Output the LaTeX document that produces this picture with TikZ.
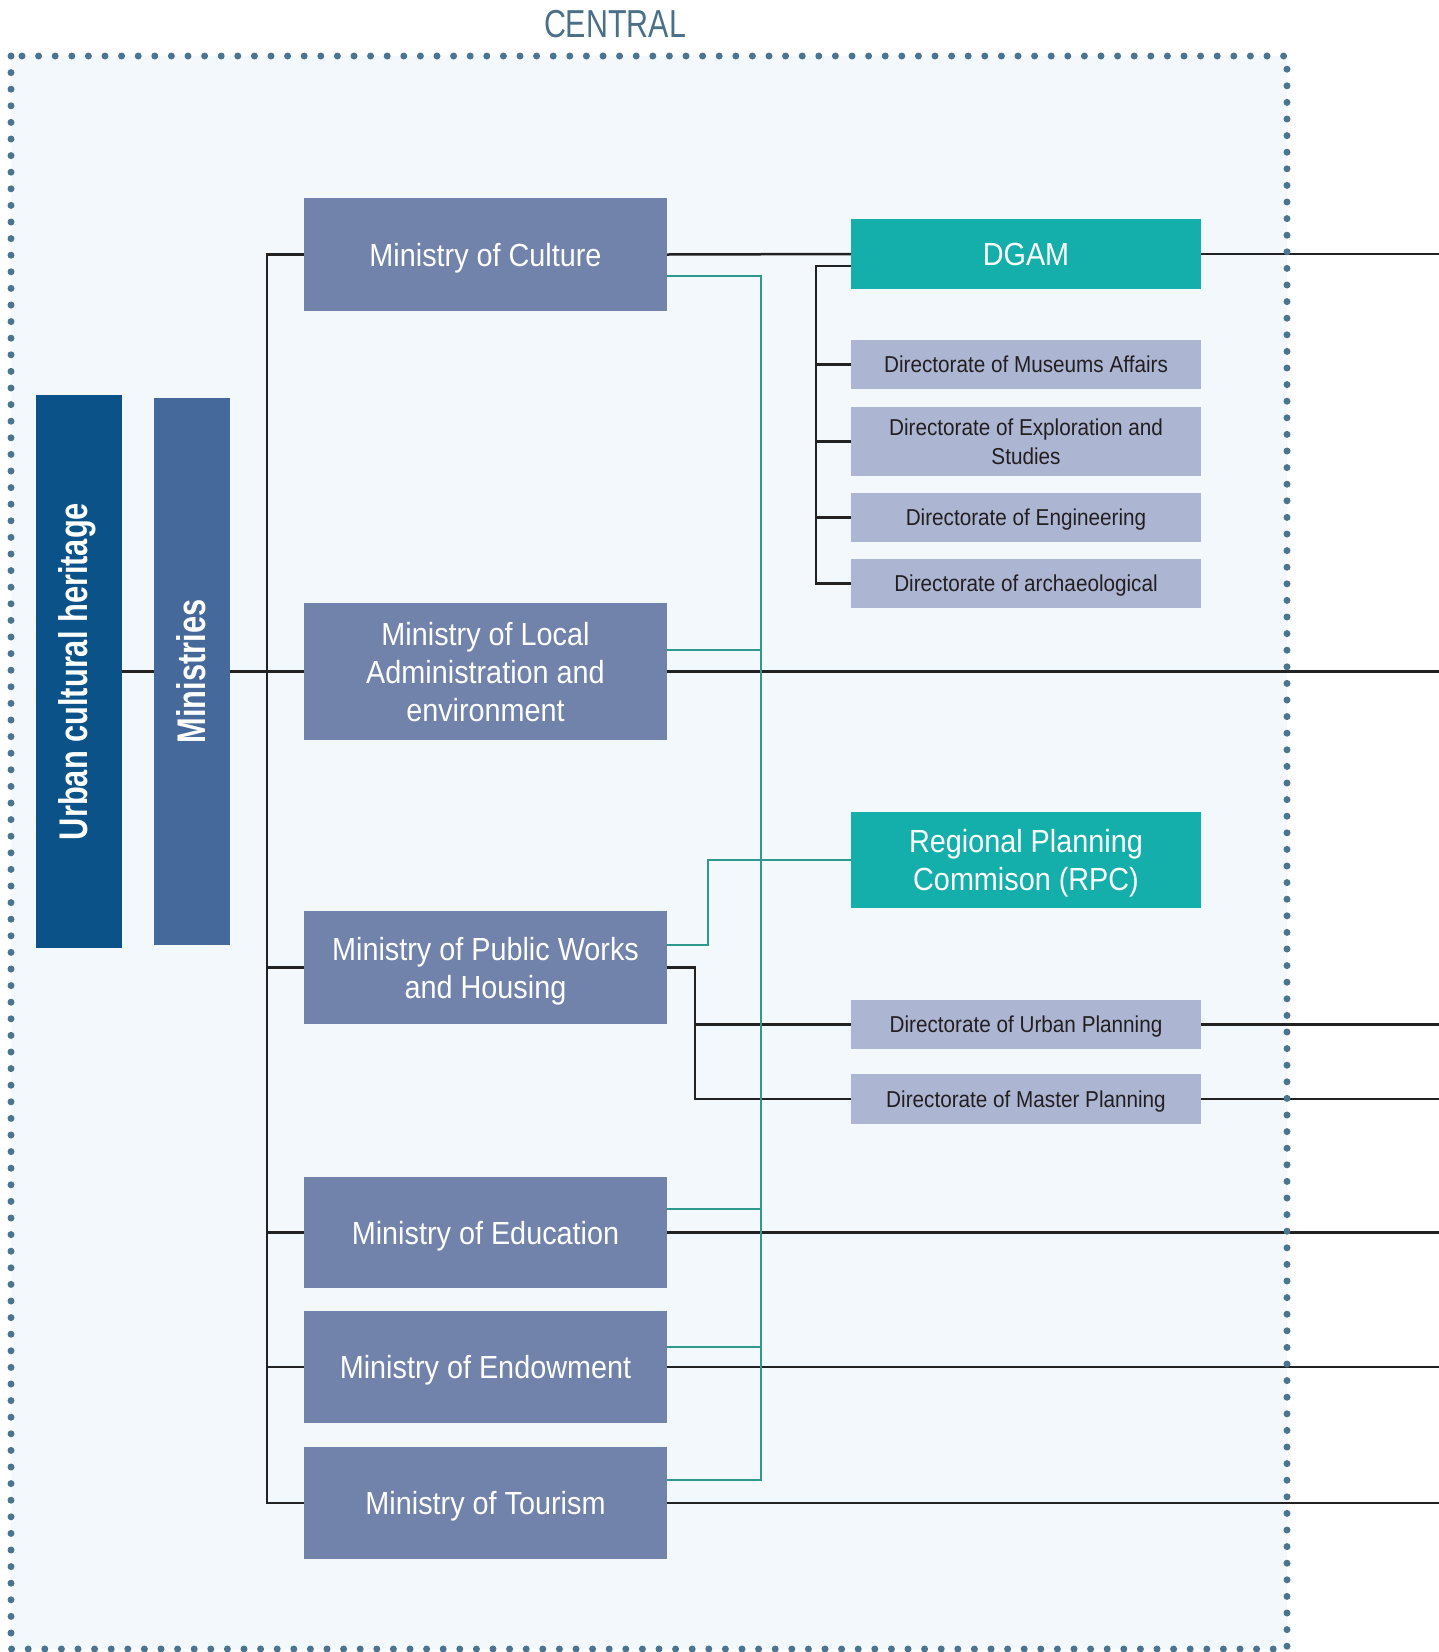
\documentclass[tikz,border=0pt]{standalone}
\usepackage{fontspec}
\setmainfont{Liberation Sans}
\newfontfamily\cond[FakeStretch=0.9]{Liberation Sans}
\newfontfamily\condcaps[FakeStretch=0.78]{Liberation Sans}
\newfontfamily\condbold[FakeStretch=0.77]{Liberation Sans}
\definecolor{bgc}{HTML}{F3F8FD}
\definecolor{dotc}{HTML}{4B7490}
\definecolor{centc}{HTML}{4A7089}
\definecolor{urbanc}{HTML}{0B5289}
\definecolor{minsc}{HTML}{45699A}
\definecolor{minc}{HTML}{7182AB}
\definecolor{dirc}{HTML}{ACB5D2}
\definecolor{dtext}{HTML}{231F20}
\definecolor{tealbox}{HTML}{14AFAA}
\definecolor{tealline}{HTML}{2E9A8E}
\definecolor{linec}{HTML}{222222}
\begin{document}
\begin{tikzpicture}[x=1pt,y=-1pt,
  mbox/.style={fill=minc, text=white, minimum width=363pt, inner sep=0pt, text depth=0pt, align=center, font=\cond\fontsize{32}{38}\selectfont},
  dbox/.style={fill=dirc, text=dtext, minimum width=350pt, inner sep=0pt, text depth=0pt, align=center, font=\cond\fontsize{23}{28.5}\selectfont},
  tbox/.style={fill=tealbox, text=white, minimum width=350pt, inner sep=0pt, text depth=0pt, align=center, font=\cond\fontsize{32}{38}\selectfont},
  vlabel/.style={rotate=90, text=white, inner sep=0pt, font=\condbold\bfseries\fontsize{40}{46}\selectfont},
  blk/.style={draw=linec, line width=2.5pt},
  tln/.style={draw=tealline, line width=2.5pt}]
\useasboundingbox (0,0) rectangle (1439,1652);
\fill[bgc] (11,56) rectangle (1287,1649);

\node[text=centc, font=\condcaps\fontsize{39}{45}\selectfont] (central) at (615,24) {CENTRAL};

% left column
\node[fill=urbanc, minimum width=86pt, minimum height=553pt, inner sep=0pt] (urban) at (79,671.5) {};
\node[vlabel] (urbantext) at (77,671.5) {Urban cultural heritage};
\node[fill=minsc, minimum width=76pt, minimum height=547pt, inner sep=0pt] (ministries) at (192,671.5) {};
\node[vlabel] (ministext) at (191,671.5) {Ministries};

% ministries
\node[mbox, minimum height=113pt] (culture) at (485.5,254.5) {Ministry of Culture};
\node[mbox, minimum height=137pt] (local) at (485.5,671.5) {Ministry of Local\\Administration and\\environment};
\node[mbox, minimum height=113pt] (pw) at (485.5,967.5) {Ministry of Public Works\\and Housing};
\node[mbox, minimum height=111pt] (edu) at (485.5,1232.5) {Ministry of Education};
\node[mbox, minimum height=112pt] (endow) at (485.5,1367) {Ministry of Endowment};
\node[mbox, minimum height=112pt] (tourism) at (485.5,1503) {Ministry of Tourism};

% right column
\node[tbox, minimum height=70pt] (dgam) at (1026,254) {DGAM};
\node[dbox, minimum height=49pt] (museums) at (1026,364.5) {Directorate of Museums Affairs};
\node[dbox, minimum height=69pt] (explor) at (1026,441.5) {Directorate of Exploration and\\Studies};
\node[dbox, minimum height=49pt] (engin) at (1026,517.5) {Directorate of Engineering};
\node[dbox, minimum height=49pt] (arch) at (1026,583.5) {Directorate of archaeological};
\node[tbox, minimum height=96pt] (rpc) at (1026,860) {Regional Planning\\Commison (RPC)};
\node[dbox, minimum height=49pt] (urbanpl) at (1026,1024.5) {Directorate of Urban Planning};
\node[dbox, minimum height=50pt] (master) at (1026,1099) {Directorate of Master Planning};

\coordinate (R) at (1439,0);
\coordinate (bus) at (267,0);
\coordinate (tbus) at (761,0);
\coordinate (dbus) at (816,0);
\coordinate (pwk) at (695,0);
\coordinate (rk) at (708,0);

% black connectors
\draw[blk] (urban.east) -- (ministries.west);
\draw[blk] (ministries.east) -- (local.west);
\draw[blk] (culture.west) -| (bus |- tourism.west) -- (tourism.west);
\draw[blk] (pw.west) -- (pw.west -| bus);
\draw[blk] (edu.west) -- (edu.west -| bus);
\draw[blk] (endow.west) -- (endow.west -| bus);

\draw[blk] (culture.east) -- (dgam.west);
\draw[blk] (dgam.east) -- (dgam.east -| R);
\draw[blk] (dgam.west |- 0,266) -| (dbus |- arch.west) -- (arch.west);
\draw[blk] (museums.west) -- (museums.west -| dbus);
\draw[blk] (explor.west) -- (explor.west -| dbus);
\draw[blk] (engin.west) -- (engin.west -| dbus);

\draw[blk] (local.east) -- (local.east -| R);
\draw[blk] (pw.east) -| (pwk |- master.west) -- (master.west);
\draw[blk] (urbanpl.west) -- (urbanpl.west -| pwk);
\draw[blk] (urbanpl.east) -- (urbanpl.east -| R);
\draw[blk] (master.east) -- (master.east -| R);
\draw[blk] (edu.east) -- (edu.east -| R);
\draw[blk] (endow.east) -- (endow.east -| R);
\draw[blk] (tourism.east) -- (tourism.east -| R);

% teal connectors
\draw[tln] (culture.east |- 0,276) -| (tbus |- 0,1480) -- (tourism.east |- 0,1480);
\draw[tln] (local.east |- 0,650) -- (tbus |- 0,650);
\draw[tln] (edu.east |- 0,1209) -- (tbus |- 0,1209);
\draw[tln] (endow.east |- 0,1347) -- (tbus |- 0,1347);
\draw[tln] (pw.east |- 0,945) -| (rk |- rpc.west) -- (rpc.west);

% dotted frame
\draw[dotc, line width=7pt, line cap=round, dash pattern=on 0pt off 16.6pt] (11,56) rectangle (1287,1649);
\end{tikzpicture}
\end{document}
